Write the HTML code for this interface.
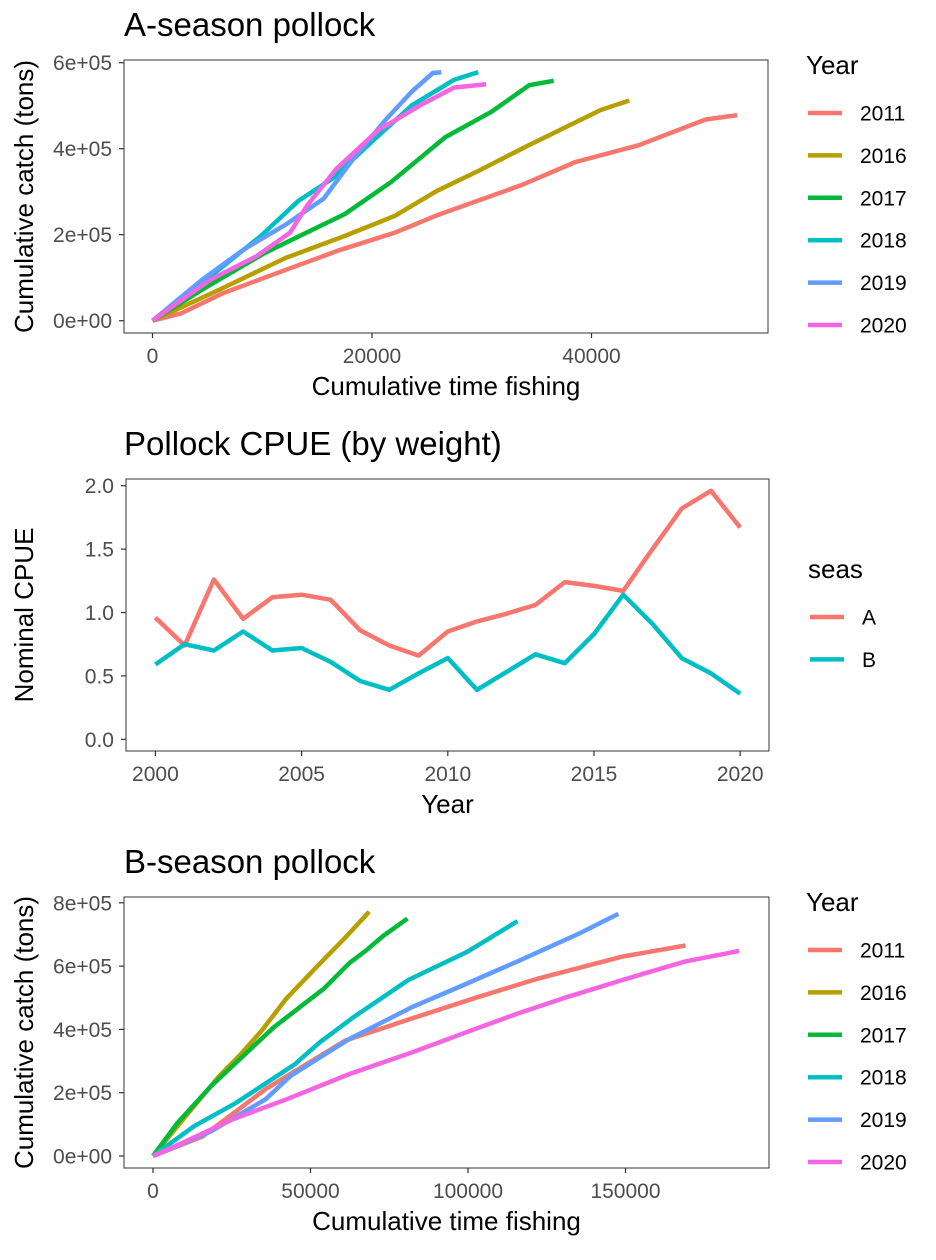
<!DOCTYPE html>
<html><head><meta charset="utf-8"><style>
body{margin:0;background:#fff;}
svg{display:block;font-family:"Liberation Sans",Arial,sans-serif;}
</style></head><body>
<svg id="fig" width="936" height="1260" viewBox="0 0 936 1260"></svg>
<script>
const NS="http://www.w3.org/2000/svg";
const svg=document.getElementById('fig');
const yearColors=["#F8766D","#B79F00","#00BA38","#00BFC4","#619CFF","#F564E3"];
const yearLabels=["2011","2016","2017","2018","2019","2020"];

// Panel A data
const aX2011=[0,2600,6424,11780,17132,22103,25927,33575,38546,44282,50400,53268];
const aY2011=[0,17000,64000,115000,165000,205000,245000,315000,369000,408000,468000,478000];
const aX2016=[0,6424,12150,17510,22100,25930,29750,33960,37400,40840,43440];
const aY2016=[0,76000,146000,197000,244000,302000,349000,404000,447000,490000,512000];
const aX2017=[0,4512,10250,17510,21720,26690,30900,34340,36560];
const aY2017=[0,72000,158000,248000,322000,427000,486000,548000,558000];
const aX2018=[0,5660,9870,13310,16370,19810,23640,27460,29680];
const aY2018=[0,111000,197000,279000,330000,412000,501000,560000,578000];
const aX2019=[0,4512,8340,12160,15600,18280,21340,23640,25550,26310];
const aY2019=[0,95000,166000,224000,284000,376000,470000,533000,576000,578000];
const aX2020=[0,5280,9480,12540,14070,16750,20570,24400,27460,30400];
const aY2020=[0,95000,150000,205000,267000,353000,443000,501000,542000,550000];

// Panel B data
const cpueYears=[2000,2001,2002,2003,2004,2005,2006,2007,2008,2009,2010,2011,2012,2013,2014,2015,2016,2017,2018,2019,2020];
const cpueA=[0.96,0.74,1.26,0.95,1.12,1.14,1.10,0.86,0.74,0.66,0.85,0.93,0.99,1.06,1.24,1.21,1.17,1.50,1.82,1.96,1.67];
const cpueB=[0.59,0.75,0.70,0.85,0.70,0.72,0.61,0.46,0.39,0.52,0.64,0.39,0.53,0.67,0.60,0.83,1.14,0.91,0.64,0.52,0.36];

// Panel C data
const cX2011=[0,15730,35730,61060,82390,102400,122400,149000,169000];
const cY2011=[0,62000,211000,365000,435000,500000,561000,630000,665000];
const cX2016=[0,10400,21060,27730,34400,42390,51720,61050,68650];
const cY2016=[0,126000,253000,320000,395000,498000,595000,690000,772000];
const cX2017=[0,7730,18400,38390,54390,62390,67720,73050,80780];
const cY2017=[0,104000,221000,407000,530000,610000,650000,695000,750000];
const cX2018=[0,13060,26400,45060,53060,63720,81050,99710,115700];
const cY2018=[0,94000,168000,290000,360000,439000,556000,645000,742000];
const cX2019=[0,18400,35730,43720,62390,82390,99710,115700,135700,147700];
const cY2019=[0,78000,179000,253000,370000,471000,545000,615000,705000,765000];
const cX2020=[0,9070,25060,42390,62390,82390,102400,115700,131700,149000,169000,186100];
const cY2020=[0,40000,115000,179000,259000,328000,402000,450000,503000,556000,615000,648000];

const aXTicks=[0,20000,40000], aXTickLabels=["0","20000","40000"];
const aYTicks=[0,200000,400000,600000], aYTickLabels=["0e+00","2e+05","4e+05","6e+05"];
const bXTicks=[2000,2005,2010,2015,2020], bXTickLabels=["2000","2005","2010","2015","2020"];
const bYTicks=[0,0.5,1,1.5,2], bYTickLabels=["0.0","0.5","1.0","1.5","2.0"];
const cXTicks=[0,50000,100000,150000], cXTickLabels=["0","50000","100000","150000"];
const cYTicks=[0,200000,400000,600000,800000], cYTickLabels=["0e+00","2e+05","4e+05","6e+05","8e+05"];

function el(tag,attrs,parent){const e=document.createElementNS(NS,tag);for(const k in attrs)e.setAttribute(k,attrs[k]);(parent||svg).appendChild(e);return e;}
function txt(s,attrs,parent){const t=el('text',attrs,parent);t.textContent=s;return t;}
function lin(d0,d1,r0,r1){return v=>r0+(v-d0)/(d1-d0)*(r1-r0);}

function panel(cfg){
  const g=el('g',{});
  
  
  const t=txt(cfg.title,{x:124,y:cfg.titleY,'font-size':33,fill:'#000'},g);
  
  
  const r=el('rect',{x:cfg.L,y:cfg.T,width:cfg.R-cfg.L,height:cfg.B-cfg.T,fill:'#fff',stroke:'#333','stroke-width':1},g);
  
  
  cfg.xt.forEach((v,i)=>{const x=cfg.sx(v);
    el('line',{x1:x,x2:x,y1:cfg.B,y2:cfg.B+5,stroke:'#333','stroke-width':1.2},g);
    const l=txt(cfg.xtl[i],{x:x,y:cfg.B+30,'font-size':21,fill:'#4d4d4d','text-anchor':'middle'},g);
    
    });
  cfg.yt.forEach((v,i)=>{const y=cfg.sy(v);
    el('line',{x1:cfg.L-5,x2:cfg.L,y1:y,y2:y,stroke:'#333','stroke-width':1.2},g);
    const l=txt(cfg.ytl[i],{x:cfg.L-12,y:y+7.5,'font-size':21,fill:'#4d4d4d','text-anchor':'end'},g);
    
    });
  const xt=txt(cfg.xTitle,{x:(cfg.L+cfg.R)/2,y:cfg.B+62,'font-size':26,fill:'#000','text-anchor':'middle'},g);
  
  
  const cy=(cfg.T+cfg.B)/2;
  const yt=txt(cfg.yTitle,{x:0,y:0,'font-size':26,fill:'#000','text-anchor':'middle',transform:`translate(33,${cy}) rotate(-90)`},g);
  
  
  cfg.series.forEach((s,i)=>{
    const d=s.x.map((v,j)=>(j?'L':'M')+cfg.sx(v).toFixed(1)+','+cfg.sy(s.y[j]).toFixed(1)).join('');
    const p=el('path',{d:d,fill:'none',stroke:s.c,'stroke-width':4.5,'stroke-linejoin':'round','stroke-linecap':'butt'},g);
    
    
  });
  const lt=txt(cfg.legTitle,{x:cfg.legX,y:cfg.legY,'font-size':26,fill:'#000'},g);
  
  
  cfg.series.forEach((s,i)=>{
    const y=cfg.legY+39+i*42.4;
    const lg=el('g',{},g);
    
    
    el('line',{x1:cfg.legX+2,x2:cfg.legX+36,y1:y,y2:y,stroke:s.c,'stroke-width':4.5},lg);
    txt(s.n,{x:cfg.legX+54,y:y+7.5,'font-size':21,fill:'#000'},lg);
  });
}

panel({name:'a-season-panel',title:'A-season pollock',titleY:36,L:124,R:768,T:60,B:333,
  sx:lin(0,20000,152.5,372),sy:lin(0,200000,320.7,234.7),
  xt:aXTicks,xtl:aXTickLabels,yt:aYTicks,ytl:aYTickLabels,
  xTitle:'Cumulative time fishing',yTitle:'Cumulative catch (tons)',
  legTitle:'Year',legX:806,legY:74,
  series:[[aX2011,aY2011],[aX2016,aY2016],[aX2017,aY2017],[aX2018,aY2018],[aX2019,aY2019],[aX2020,aY2020]].map((s,i)=>({x:s[0],y:s[1],c:yearColors[i],n:yearLabels[i]}))});

panel({name:'cpue-panel',title:'Pollock CPUE (by weight)',titleY:455,L:126,R:769,T:479,B:751,
  sx:lin(2000,2005,155.4,301.6),sy:lin(0,0.5,739.3,675.9),
  xt:bXTicks,xtl:bXTickLabels,yt:bYTicks,ytl:bYTickLabels,
  xTitle:'Year',yTitle:'Nominal CPUE',
  legTitle:'seas',legX:808,legY:578,
  series:[{x:cpueYears,y:cpueA,c:'#F8766D',n:'A'},{x:cpueYears,y:cpueB,c:'#00BFC4',n:'B'}]});

panel({name:'b-season-panel',title:'B-season pollock',titleY:873,L:124,R:769,T:897,B:1168,
  sx:lin(0,50000,153,310.5),sy:lin(0,200000,1156,1092.7),
  xt:cXTicks,xtl:cXTickLabels,yt:cYTicks,ytl:cYTickLabels,
  xTitle:'Cumulative time fishing',yTitle:'Cumulative catch (tons)',
  legTitle:'Year',legX:806,legY:911,
  series:[[cX2011,cY2011],[cX2016,cY2016],[cX2017,cY2017],[cX2018,cY2018],[cX2019,cY2019],[cX2020,cY2020]].map((s,i)=>({x:s[0],y:s[1],c:yearColors[i],n:yearLabels[i]}))});
</script>
</body></html>
